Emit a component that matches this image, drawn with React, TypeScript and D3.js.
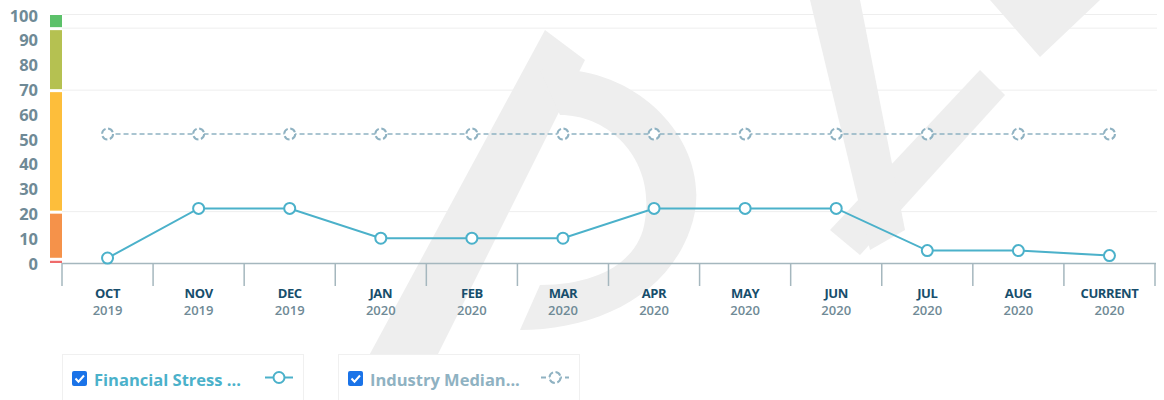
import React from "react";
import * as d3 from "d3";

const months = ["OCT", "NOV", "DEC", "JAN", "FEB", "MAR", "APR", "MAY", "JUN", "JUL", "AUG", "CURRENT"];
const years = ["2019", "2019", "2019", "2020", "2020", "2020", "2020", "2020", "2020", "2020", "2020", "2020"];
const financialStress = [2, 22, 22, 10, 10, 10, 22, 22, 22, 5, 5, 3];
const industryMedian = [52, 52, 52, 52, 52, 52, 52, 52, 52, 52, 52, 52];
const yTicks = [0, 10, 20, 30, 40, 50, 60, 70, 80, 90, 100];
const bandEdges = [0, 1.5, 20.5, 69.5, 94.5, 100];
const bandColors = ["#ef6b6b", "#f5924a", "#fdbe3b", "#b5c151", "#5cc16a"];
const gridValues = [100, 94.5, 69.5, 20.5];
const legendItems = ["Financial Stress ...", "Industry Median..."];

const W = 1164;
const H = 400;
const FONT = "'Open Sans', sans-serif";

export default function App() {
  const y = d3.scaleLinear().domain([0, 100]).range([263, 15]);
  const x = d3.scaleBand<string>().domain(months).range([62, 1155]);
  const cx = (i: number) => (x(months[i]) as number) + x.bandwidth() / 2;
  const lineGen = d3
    .line<number>()
    .x((_, i) => cx(i))
    .y((d) => y(d));

  const bands = bandColors.map((c, i) => ({
    c,
    top: y(bandEdges[i + 1]) + (i === bandColors.length - 1 ? 0 : 1.5),
    bot: y(bandEdges[i]) - (i === 0 ? 0 : 1.5),
  }));

  const ticks = x.domain().map((m) => x(m) as number).concat([x.range()[1]]);

  return (
    <svg width={W} height={H} style={{ position: "absolute", left: 0, top: 0, background: "#fff" }} fontFamily={FONT}>
      {/* watermark */}
      <g fill="#eeeeee">
        <polygon points="345,400 415,400 585,60 545,30" />
        <path d="M540,70 C640,60 720,150 690,230 C665,300 590,330 520,330 L540,285 C600,285 640,260 645,220 C655,160 610,115 560,115 Z" />
        <polygon points="980,70 1005,95 860,255 830,230" />
        <polygon points="990,0 1100,0 1040,57" />
        <polygon points="810,0 860,0 905,230 870,250" />
      </g>
      {/* grid */}
      {gridValues.map((v) => (
        <line key={v} x1={62} x2={1157} y1={y(v) - 0.5} y2={y(v) - 0.5} stroke="#eeeeee" strokeWidth={1} />
      ))}
      {/* color bar */}
      {bands.map((b, i) => (
        <rect key={i} x={50} width={12} y={b.top} height={Math.max(1, b.bot - b.top)} fill={b.c} />
      ))}
      {/* y labels */}
      {yTicks.map((t) => (
        <text key={t} x={38} y={y(t)} textAnchor="end" dominantBaseline="central" fontSize={16.5} fontWeight={700} fill="#6f8a96">
          {t}
        </text>
      ))}
      {/* x axis */}
      <line x1={62} x2={1156} y1={263.5} y2={263.5} stroke="#a5b7be" strokeWidth={1.5} />
      {ticks.map((t, i) => (
        <line key={i} x1={t} x2={t} y1={263} y2={286} stroke="#a5b7be" strokeWidth={1.5} />
      ))}
      {months.map((m, i) => (
        <g key={m}>
          <text x={cx(i)} y={293} textAnchor="middle" dominantBaseline="central" fontSize={13} fontWeight={700} letterSpacing={-0.4} fill="#174e6c">
            {m}
          </text>
          <text x={cx(i)} y={310} textAnchor="middle" dominantBaseline="central" fontSize={13} fontWeight={600} fill="#6f8a96">
            {years[i]}
          </text>
        </g>
      ))}
      {/* median line */}
      <path d={lineGen(industryMedian) || ""} fill="none" stroke="#8fb2c2" strokeWidth={1.5} strokeDasharray="5,3" />
      {industryMedian.map((v, i) => (
        <circle key={i} cx={cx(i)} cy={y(v)} r={5.5} fill="#fff" stroke="#8fb2c2" strokeWidth={2} strokeDasharray="6,2.6" />
      ))}
      {/* financial stress line */}
      <path d={lineGen(financialStress) || ""} fill="none" stroke="#4bb1ca" strokeWidth={2} />
      {financialStress.map((v, i) => (
        <circle key={i} cx={cx(i)} cy={y(v)} r={5.5} fill="#fff" stroke="#4bb1ca" strokeWidth={2} />
      ))}
      {/* legend */}
      {legendItems.map((label, i) => {
        const lx = 62 + i * 276;
        const col = i === 0 ? "#4bb1ca" : "#8fb2c2";
        return (
          <g key={label}>
            <rect x={lx + 0.5} y={354.5} width={241} height={60} fill="#fff" stroke="#f0f0f0" />
            <rect x={lx + 10} y={371} width={15} height={15} rx={2} fill="#1a73e8" />
            <path d={`M${lx + 13.5} ${378.5} l3 3.2 l5.5 -6.2`} fill="none" stroke="#fff" strokeWidth={2} />
            <text x={lx + 32} y={379} dominantBaseline="central" fontSize={16.5} fontWeight={700} fill={col}>
              {label}
            </text>
            <line x1={lx + 203} x2={lx + 231} y1={377.5} y2={377.5} stroke={col} strokeWidth={2} strokeDasharray={i === 1 ? "5,3" : undefined} />
            <circle cx={lx + 217} cy={377.5} r={5.5} fill="#fff" stroke={col} strokeWidth={2} strokeDasharray={i === 1 ? "6,2.6" : undefined} />
          </g>
        );
      })}
    </svg>
  );
}
